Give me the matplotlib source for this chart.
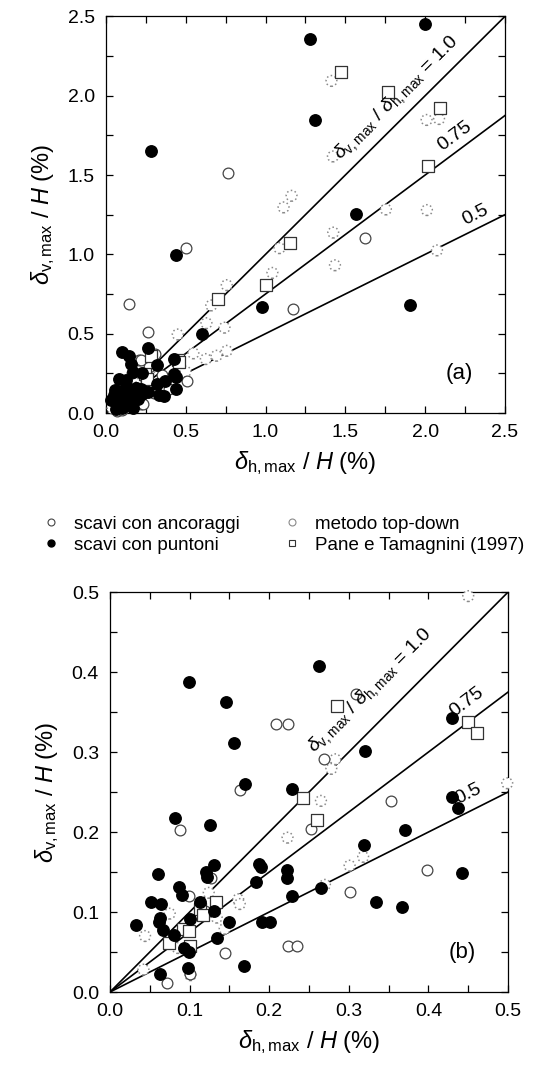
import matplotlib.pyplot as plt
import numpy as np

plt.rcParams['font.family'] = ['Liberation Sans', 'DejaVu Sans']
plt.rcParams['mathtext.fontset'] = 'custom'
plt.rcParams['mathtext.rm'] = 'Liberation Sans'
plt.rcParams['mathtext.it'] = 'Liberation Sans:italic'

# ---- data (delta_h/H, delta_v/H) in % ----
# scavi con ancoraggi (open circles)
anc_x = [0.146, 0.265, 0.504, 0.763, 0.51, 1.174, 1.62,
         0.309, 0.209, 0.223, 0.269, 0.163, 0.253, 0.088, 0.0997, 0.301,
         0.353, 0.398, 0.145, 0.223, 0.235, 0.071, 0.101, 0.127, 0.119]
anc_y = [0.689, 0.511, 1.04, 1.513, 0.20, 0.653, 1.102,
         0.373, 0.335, 0.335, 0.291, 0.253, 0.204, 0.202, 0.120, 0.125,
         0.239, 0.152, 0.049, 0.057, 0.057, 0.011, 0.022, 0.142, 0.101]

# scavi con puntoni (filled circles)
pun_x = [2.0, 1.276, 1.309, 0.28, 0.439, 1.565, 0.976, 1.904, 0.60,
         0.0997, 0.146, 0.156, 0.170, 0.263, 0.229, 0.320, 0.429, 0.082, 0.125,
         0.060, 0.121, 0.122, 0.131, 0.087, 0.090, 0.052, 0.064, 0.113, 0.033,
         0.063, 0.061, 0.067, 0.081, 0.101, 0.093, 0.099, 0.131, 0.135, 0.149,
         0.098, 0.0625, 0.168, 0.183, 0.187, 0.190, 0.191, 0.201, 0.222, 0.222,
         0.229, 0.265, 0.319, 0.334, 0.367, 0.370, 0.429, 0.437, 0.442]
pun_y = [2.45, 2.36, 1.847, 1.65, 0.997, 1.252, 0.666, 0.682, 0.499,
         0.387, 0.362, 0.311, 0.260, 0.407, 0.254, 0.301, 0.342, 0.217, 0.209,
         0.148, 0.150, 0.144, 0.159, 0.131, 0.121, 0.112, 0.110, 0.113, 0.084,
         0.092, 0.088, 0.078, 0.071, 0.091, 0.055, 0.050, 0.101, 0.068, 0.088,
         0.030, 0.023, 0.033, 0.137, 0.160, 0.156, 0.087, 0.088, 0.152, 0.143,
         0.120, 0.130, 0.184, 0.113, 0.106, 0.202, 0.244, 0.230, 0.149]

# metodo top-down (grey dotted circles)
top_x = [0.548, 0.626, 0.693, 0.757, 0.743, 0.63, 0.66, 0.757, 1.043, 1.087,
         1.113, 1.163, 1.413, 1.422, 1.424, 1.435, 1.754, 2.011, 2.009, 2.087,
         2.074,
         0.45, 0.499, 0.283, 0.278, 0.265, 0.223, 0.318, 0.301, 0.270, 0.044,
         0.075, 0.124, 0.134, 0.144, 0.161, 0.163, 0.085, 0.101, 0.042, 0.118]
top_y = [0.376, 0.34, 0.361, 0.392, 0.538, 0.566, 0.678, 0.806, 0.883, 1.039,
         1.296, 1.369, 2.093, 1.617, 1.137, 0.931, 1.283, 1.279, 1.847, 1.853,
         1.025,
         0.495, 0.261, 0.291, 0.279, 0.239, 0.193, 0.169, 0.158, 0.134, 0.070,
         0.098, 0.124, 0.093, 0.079, 0.116, 0.110, 0.055, 0.021, 0.028, 0.095]

# Pane e Tamagnini (1997) (open squares)
pt_x = [1.472, 1.77, 2.091, 2.015, 1.152, 1.004, 0.704,
        0.285, 0.243, 0.260, 0.450, 0.461, 0.133, 0.113, 0.117, 0.092, 0.099,
        0.074, 0.101]
pt_y = [2.149, 2.026, 1.92, 1.555, 1.071, 0.806, 0.72,
        0.358, 0.243, 0.215, 0.337, 0.324, 0.112, 0.104, 0.096, 0.079, 0.076,
        0.061, 0.058]

ratios = [1.0, 0.75, 0.5]

fig = plt.figure(figsize=(5.43, 10.75), dpi=100)
ax1 = fig.add_axes([0.195, 0.6158, 0.735, 0.369])
ax2 = fig.add_axes([0.2026, 0.0772, 0.733, 0.372])


def inside(x, y, lim):
    x = np.asarray(x)
    y = np.asarray(y)
    m = (x <= lim) & (y <= lim)
    return x[m], y[m]


def draw(ax, lim, major, minor, lbl, lbl_pos, txt):
    for r in ratios:
        ax.plot([0, lim], [0, r * lim], color='black', lw=1.2, zorder=1)
    x, y = inside(top_x, top_y, lim)
    ax.scatter(x, y, s=60, facecolor='white', edgecolor='#8a8a8a',
               linewidths=1.1, linestyle=':', zorder=3, clip_on=False)
    x, y = inside(anc_x, anc_y, lim)
    ax.scatter(x, y, s=60, facecolor='white', edgecolor='#444444',
               linewidths=0.9, zorder=3, clip_on=False)
    x, y = inside(pt_x, pt_y, lim)
    ax.scatter(x, y, s=72, marker='s', facecolor='white',
               edgecolor='#333333', linewidths=0.9, zorder=3, clip_on=False)
    x, y = inside(pun_x, pun_y, lim)
    ax.scatter(x, y, s=68, color='black', zorder=4, clip_on=False)
    ax.set_xlim(0, lim)
    ax.set_ylim(0, lim)
    ax.set_xticks(np.arange(0, lim + 1e-9, major))
    ax.set_yticks(np.arange(0, lim + 1e-9, major))
    ax.set_xticks(np.arange(0, lim + 1e-9, minor), minor=True)
    ax.set_yticks(np.arange(0, lim + 1e-9, minor), minor=True)
    ax.xaxis.set_major_formatter(plt.FormatStrFormatter('%.1f'))
    ax.yaxis.set_major_formatter(plt.FormatStrFormatter('%.1f'))
    ax.tick_params(which='both', direction='in', top=True, right=True,
                   length=5, width=0.9, labelsize=14, pad=8)
    for s in ax.spines.values():
        s.set_linewidth(0.9)
    ax.set_xlabel(r'$\delta_{\mathrm{h,max}}$ / $\mathit{H}$ (%)', fontsize=17, labelpad=6)
    ax.set_ylabel(r'$\delta_{\mathrm{v,max}}$ / $\mathit{H}$ (%)', fontsize=17, labelpad=8)
    ax.text(lbl_pos[0], lbl_pos[1], lbl, fontsize=16, ha='right', va='center')
    # line labels
    for (x, y, r, s) in txt:
        ang = np.degrees(np.arctan(r))
        ax.text(x, y, s, fontsize=14, rotation=ang, rotation_mode='anchor',
                transform_rotates_text=True, ha='left', va='bottom')


draw(ax1, 2.5, 0.5, 0.25, '(a)', (2.3, 0.25),
     [(1.5, 1.56, 1.0, r'$\delta_{\mathrm{v,max}}$ / $\delta_{\mathrm{h,max}}$ = 1.0'),
      (2.12, 1.63, 0.75, '0.75'),
      (2.26, 1.16, 0.5, '0.5')])
draw(ax2, 0.5, 0.1, 0.05, '(b)', (0.46, 0.05),
     [(0.262, 0.293, 1.0, r'$\delta_{\mathrm{v,max}}$ / $\delta_{\mathrm{h,max}}$ = 1.0'),
      (0.435, 0.34, 0.75, '0.75'),
      (0.44, 0.231, 0.5, '0.5')])

# legend
h1 = plt.Line2D([], [], ls='', marker='o', ms=5, mfc='white', mec='#444444', mew=0.8)
h2 = plt.Line2D([], [], ls='', marker='o', ms=5, mfc='black', mec='black')
h3 = plt.Line2D([], [], ls='', marker='o', ms=5, mfc='white', mec='#8a8a8a', mew=0.8)
h4 = plt.Line2D([], [], ls='', marker='s', ms=5, mfc='white', mec='#333333', mew=0.8)
fig.legend([h1, h2, h3, h4],
           ['scavi con ancoraggi', 'scavi con puntoni', 'metodo top-down',
            'Pane e Tamagnini (1997)'],
           ncol=2, loc='upper left', bbox_to_anchor=(0.06, 1 - 508 / 1075),
           frameon=False, fontsize=13.5, handlelength=1.2, handletextpad=0.6,
           columnspacing=2.2, labelspacing=0.2, borderaxespad=0)

fig.savefig('out.png', dpi=100)
